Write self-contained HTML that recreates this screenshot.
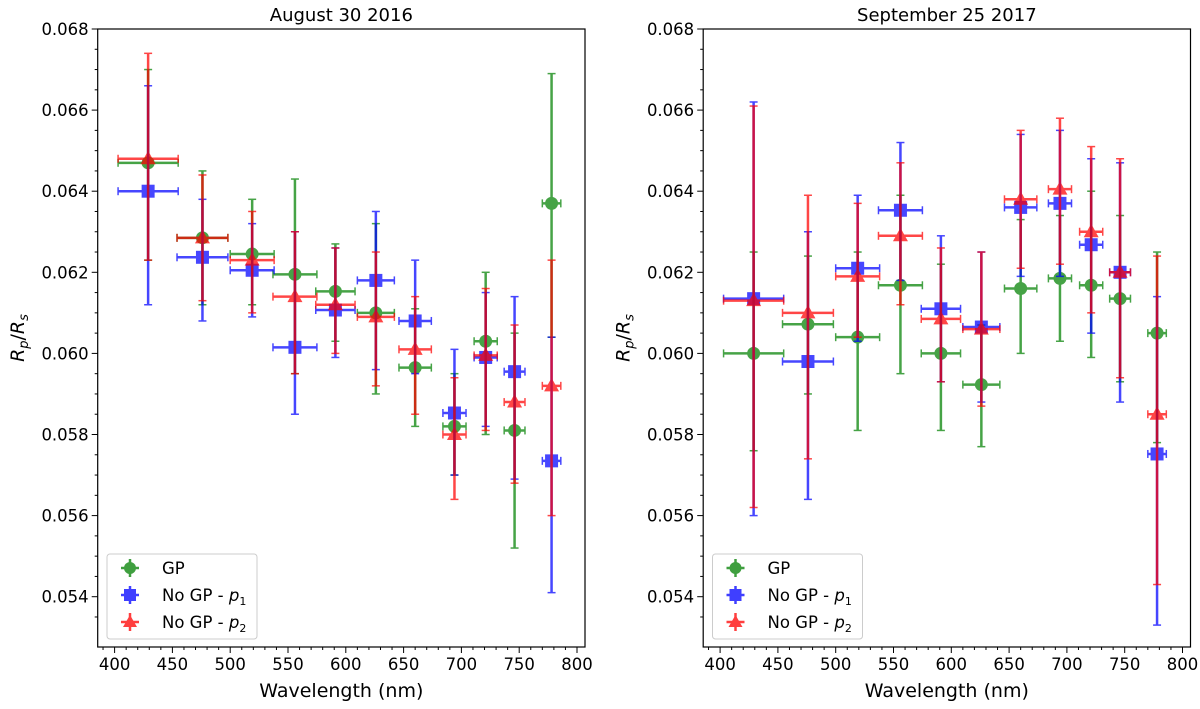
<!DOCTYPE html>
<html><head><meta charset="utf-8"><style>
html,body{margin:0;padding:0;background:#fff;}
svg{display:block;font-family:"DejaVu Sans","Liberation Sans",sans-serif;}
</style></head><body>
<svg id="chart" width="1200" height="709" xmlns="http://www.w3.org/2000/svg"></svg>
<script>
const xTicks=[400,450,500,550,600,650,700,750,800];
const yTicks=[0.054,0.056,0.058,0.060,0.062,0.064,0.066,0.068];
const wl=[429,476,519,556,591,626,660,694,721,746,778];
const xerr=[26,22,19,19,17,16,14,10,10,9,8];
// August 30 2016
const a_gp=[0.0647,0.06285,0.06245,0.06195,0.06153,0.0610,0.05965,0.0582,0.0603,0.0581,0.0637];
const a_gp_lo=[0.0623,0.0612,0.0612,0.0595,0.0603,0.0590,0.0582,0.0570,0.0580,0.0552,0.0604];
const a_gp_hi=[0.0670,0.0645,0.0638,0.0643,0.0627,0.0632,0.0611,0.0595,0.0620,0.0605,0.0669];
const a_p1=[0.0640,0.06237,0.06205,0.06015,0.06107,0.0618,0.0608,0.05853,0.0599,0.05955,0.05735];
const a_p1_lo=[0.0612,0.0608,0.0609,0.0585,0.0599,0.0596,0.0595,0.0570,0.0582,0.0569,0.0541];
const a_p1_hi=[0.0666,0.0638,0.0632,0.0630,0.0626,0.0635,0.0623,0.0601,0.0615,0.0614,0.0604];
const a_p2=[0.0648,0.06285,0.0623,0.0614,0.0612,0.0609,0.0601,0.0580,0.05995,0.0588,0.0592];
const a_p2_lo=[0.0623,0.0613,0.0610,0.0595,0.0600,0.0592,0.0585,0.0564,0.0581,0.0568,0.0560];
const a_p2_hi=[0.0674,0.0644,0.0635,0.0630,0.0626,0.0625,0.0614,0.0594,0.0616,0.0607,0.0623];
// September 25 2017
const s_gp=[0.0600,0.06072,0.0604,0.06168,0.0600,0.05923,0.0616,0.06185,0.06168,0.06135,0.0605];
const s_gp_lo=[0.0576,0.0590,0.0581,0.0595,0.0581,0.0577,0.0600,0.0603,0.0599,0.0593,0.0578];
const s_gp_hi=[0.0625,0.0624,0.0625,0.0639,0.0622,0.0607,0.0633,0.0634,0.0640,0.0634,0.0625];
const s_p1=[0.06135,0.0598,0.0621,0.06353,0.0611,0.06065,0.0636,0.0637,0.06268,0.0620,0.05752];
const s_p1_lo=[0.0560,0.0564,0.0603,0.0618,0.0593,0.0588,0.0619,0.0619,0.0605,0.0588,0.0533];
const s_p1_hi=[0.0662,0.0630,0.0639,0.0652,0.0629,0.0625,0.0654,0.0655,0.0648,0.0647,0.0614];
const s_p2=[0.0613,0.0610,0.0619,0.0629,0.06085,0.0606,0.0638,0.06405,0.0630,0.0620,0.0585];
const s_p2_lo=[0.0562,0.0574,0.0604,0.0612,0.0593,0.0587,0.0621,0.0622,0.0610,0.0594,0.0543];
const s_p2_hi=[0.0661,0.0639,0.0637,0.0647,0.0626,0.0625,0.0655,0.0658,0.0651,0.0648,0.0624];

const NS="http://www.w3.org/2000/svg";
const svg=document.getElementById('chart');
function mk(tag,attrs,parent){const e=document.createElementNS(NS,tag);for(const k in attrs)e.setAttribute(k,attrs[k]);(parent||svg).appendChild(e);return e;}

function panel(ox,title,key,series){
  const L=ox+97.7,R=ox+585,T=29,B=647;
  const xs=v=>ox+114.6+(v-400)*1.156;
  const ys=v=>T+(0.068-v)/0.002*81.1;
  const g=mk('g',{});
  
  
  const t=mk('text',{x:(L+R)/2,y:21,'text-anchor':'middle','font-size':18},g);
  t.textContent=title;
  
  
  for(let v=390;v<=800;v+=10){const x=xs(v);const maj=v%50===0;mk('line',{x1:x,x2:x,y1:B,y2:B+(maj?6:3),stroke:'#000','stroke-width':1},g);}
  xTicks.forEach(v=>{const tt=mk('text',{x:xs(v),y:B+23,'text-anchor':'middle','font-size':16.5},g);tt.textContent=v;
    });
  for(let i=0;i<=29;i++){const v=0.0535+i*0.0005;const y=ys(v);if(y<T-0.5)continue;const maj=Math.abs((v*1000)%2)<0.01||Math.abs((v*1000)%2-2)<0.01;mk('line',{x1:L,x2:L-(maj?6:3),y1:y,y2:y,stroke:'#000','stroke-width':1},g);}
  yTicks.forEach(v=>{const tt=mk('text',{x:L-9,y:ys(v)+6,'text-anchor':'end','font-size':16.5},g);tt.textContent=v.toFixed(3);
    });
  const xl=mk('text',{x:(L+R)/2,y:697,'text-anchor':'middle','font-size':19},g);xl.textContent='Wavelength (nm)';
  
  const yl=mk('text',{transform:`translate(${ox+24},${(T+B)/2}) rotate(-90)`,'text-anchor':'middle','font-size':19},g);
  yl.innerHTML='<tspan font-style="italic">R</tspan><tspan font-style="italic" font-size="13" dy="4">p</tspan><tspan dy="-4">/</tspan><tspan font-style="italic">R</tspan><tspan font-style="italic" font-size="13" dy="4">s</tspan>';
  
  series.forEach(s=>{
    const sg=mk('g',{opacity:0.72},g);
    
    
    wl.forEach((w,i)=>{
      const x=xs(w),y=ys(s.v[i]),y1=ys(s.lo[i]),y2=ys(s.hi[i]),xa=xs(w-xerr[i]),xb=xs(w+xerr[i]);
      const st={stroke:s.c,'stroke-width':2.5};
      mk('line',Object.assign({x1:x,x2:x,y1:y1,y2:y2},st),sg);
      mk('line',Object.assign({x1:xa,x2:xb,y1:y,y2:y},st),sg);
      mk('line',Object.assign({x1:x-4,x2:x+4,y1:y1,y2:y1},st,{'stroke-width':1.5}),sg);
      mk('line',Object.assign({x1:x-4,x2:x+4,y1:y2,y2:y2},st,{'stroke-width':1.5}),sg);
      mk('line',Object.assign({x1:xa,x2:xa,y1:y-4,y2:y+4},st,{'stroke-width':1.5}),sg);
      mk('line',Object.assign({x1:xb,x2:xb,y1:y-4,y2:y+4},st,{'stroke-width':1.5}),sg);
      let m;
      if(s.m==='o')m=mk('circle',{cx:x,cy:y,r:6.5,fill:s.c},sg);
      else if(s.m==='s')m=mk('rect',{x:x-6.5,y:y-6.5,width:13,height:13,fill:s.c},sg);
      else m=mk('polygon',{points:`${x},${y-8} ${x-7.5},${y+5.5} ${x+7.5},${y+5.5}`,fill:s.c},sg);
      
      
    });
  });
  mk('rect',{x:L,y:T,width:R-L,height:B-T,fill:'none',stroke:'#000','stroke-width':1.2},g);
  const lx=ox+107,ly=554;
  const lg=mk('g',{},g);
  
  
  mk('rect',{x:lx,y:ly,width:150,height:85,rx:3,fill:'#fff',stroke:'#ccc','stroke-width':1},lg);
  const labels=['GP','No GP - <tspan font-style="italic">p</tspan><tspan font-size="11" dy="4">1</tspan>','No GP - <tspan font-style="italic">p</tspan><tspan font-size="11" dy="4">2</tspan>'];
  series.forEach((s,i)=>{
    const cx=lx+23,cy=ly+14+i*27;
    const eg=mk('g',{opacity:0.75},lg);
    
    
    mk('line',{x1:cx-9,x2:cx+9,y1:cy,y2:cy,stroke:s.c,'stroke-width':2.5},eg);
    mk('line',{x1:cx,x2:cx,y1:cy-9,y2:cy+9,stroke:s.c,'stroke-width':2.5},eg);
    if(s.m==='o')mk('circle',{cx:cx,cy:cy,r:6,fill:s.c},eg);
    else if(s.m==='s')mk('rect',{x:cx-6,y:cy-6,width:12,height:12,fill:s.c},eg);
    else mk('polygon',{points:`${cx},${cy-7} ${cx-7},${cy+5} ${cx+7},${cy+5}`,fill:s.c},eg);
    const lt=mk('text',{x:lx+55,y:cy+6,'font-size':16.5},lg);lt.innerHTML=labels[i];
    
    
  });
}
panel(0,'August 30 2016','aug',[
 {name:'gp',c:'#008000',m:'o',v:a_gp,lo:a_gp_lo,hi:a_gp_hi},
 {name:'p1',c:'#0000ff',m:'s',v:a_p1,lo:a_p1_lo,hi:a_p1_hi},
 {name:'p2',c:'#ff0000',m:'^',v:a_p2,lo:a_p2_lo,hi:a_p2_hi}]);
panel(605.5,'September 25 2017','sep',[
 {name:'gp',c:'#008000',m:'o',v:s_gp,lo:s_gp_lo,hi:s_gp_hi},
 {name:'p1',c:'#0000ff',m:'s',v:s_p1,lo:s_p1_lo,hi:s_p1_hi},
 {name:'p2',c:'#ff0000',m:'^',v:s_p2,lo:s_p2_lo,hi:s_p2_hi}]);
</script>
</body></html>
